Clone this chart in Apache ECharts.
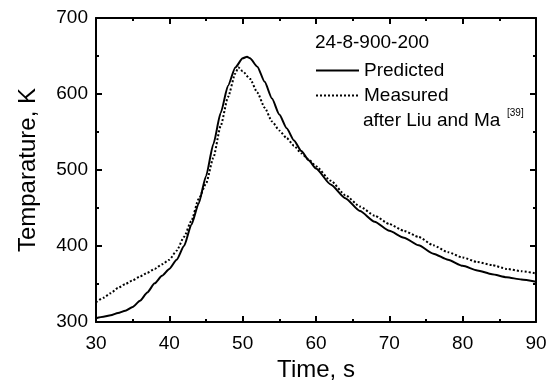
<!DOCTYPE html>
<html>
<head>
<meta charset="utf-8">
<script src="https://cdn.jsdelivr.net/npm/echarts@6/dist/echarts.min.js"></script>
<style>
  html, body { margin: 0; padding: 0; background: #fff; }
  #chart { width: 559px; height: 387px; }
</style>
</head>
<body>
<div id="chart"></div>
<script>
// values
const predTime = [30, 31, 32, 33, 34, 35, 36, 37, 38, 39, 40, 41, 42, 43, 44, 45, 46, 47, 48, 49, 50, 50.6, 51, 52, 53, 54, 55, 56, 57, 58, 59, 60, 62, 64, 66, 68, 70, 72, 74, 76, 78, 80, 82, 84, 86, 88, 90];
const predTemp = [305, 307, 309, 312, 315, 320, 328, 339, 351, 361, 370, 382, 400, 428, 456, 492, 534, 575, 611, 635, 647, 649, 647, 636, 616, 594, 573, 555, 539, 525, 513, 502, 481, 463, 446, 432, 420, 411, 401, 390, 382, 374, 368, 363, 359, 356, 353];

const measTime = [30, 31, 32, 33, 34, 35, 36, 37, 38, 39, 40, 41, 42, 43, 44, 45, 46, 47, 48, 49, 49.4, 50, 51, 52, 53, 54, 55, 56, 57, 58, 59, 60, 62, 64, 66, 68, 70, 72, 74, 76, 78, 80, 82, 84, 86, 88, 90];
const measTemp = [326, 332, 338, 345, 350, 355, 360, 365, 370, 376, 382, 394, 412, 433, 462, 482, 516, 558, 596, 627, 635, 630, 620, 602, 582, 564, 552, 542, 532, 522, 514, 505, 486, 467, 452, 440, 429, 420, 412, 401, 392, 385, 379, 375, 370, 367, 364];

const seriesNames = ['Predicted', 'Measured'];
const caseLabel = '24-8-900-200';
const sourceLabel = 'after Liu and Ma';
const refLabel = '[39]';

const FONT = 'Liberation Sans, Arial, Helvetica, sans-serif';

const pair = (xs, ys) => xs.map((x, i) => [x, ys[i]]);

const chart = echarts.init(document.getElementById('chart'));

const axisCommon = {
  type: 'value',
  axisLine: { show: true, onZero: false, lineStyle: { color: '#000', width: 2 } },
  axisTick: { show: true, inside: true, length: 6, lineStyle: { color: '#000', width: 2 } },
  minorTick: { show: true, splitNumber: 2, length: 3, lineStyle: { color: '#000', width: 2 } },
  splitLine: { show: false },
  minorSplitLine: { show: false }
};

const option = {
  animation: false,
  backgroundColor: '#fff',
  grid: { left: 96, right: 23, top: 18, bottom: 59 },
  xAxis: [
    {
      ...axisCommon,
      position: 'bottom',
      min: 30, max: 90, interval: 10,
      name: 'Time, s',
      nameLocation: 'middle',
      nameGap: 24,
      nameTextStyle: { fontFamily: FONT, fontSize: 24, color: '#000' },
      axisLabel: { fontFamily: FONT, fontSize: 19, color: '#000', margin: 12 }
    },
    {
      ...axisCommon,
      position: 'top',
      min: 30, max: 90, interval: 10,
      axisLabel: { show: false }
    }
  ],
  yAxis: [
    {
      ...axisCommon,
      position: 'left',
      min: 300, max: 700, interval: 100,
      name: 'Temparature, K',
      nameLocation: 'middle',
      nameGap: 56,
      nameTextStyle: { fontFamily: FONT, fontSize: 24, color: '#000' },
      axisLabel: { fontFamily: FONT, fontSize: 19, color: '#000', margin: 8 }
    },
    {
      ...axisCommon,
      position: 'right',
      min: 300, max: 700, interval: 100,
      axisLabel: { show: false }
    }
  ],
  legend: {
    data: seriesNames,
    orient: 'vertical',
    left: 310,
    top: 56,
    itemWidth: 43,
    itemHeight: 14,
    itemGap: 6,
    itemStyle: { opacity: 0 },
    textStyle: { fontFamily: FONT, fontSize: 19, color: '#000', lineHeight: 18 }
  },
  graphic: [
    {
      type: 'text', left: 315, top: 33,
      style: { text: caseLabel, font: '19px ' + FONT, fill: '#000' }
    },
    {
      type: 'text', left: 363, top: 111,
      style: { text: sourceLabel, font: '19px ' + FONT, fill: '#000' }
    },
    {
      type: 'text', left: 507, top: 108,
      style: { text: refLabel, font: '10px ' + FONT, fill: '#000' }
    }
  ],
  series: [
    {
      name: seriesNames[0],
      type: 'line',
      data: pair(predTime, predTemp),
      smooth: 0.2,
      smoothMonotone: 'x',
      symbol: 'none',
      lineStyle: { color: '#000', width: 2, type: 'solid' },
      itemStyle: { color: '#000' }
    },
    {
      name: seriesNames[1],
      type: 'line',
      data: pair(measTime, measTemp),
      smooth: 0.2,
      smoothMonotone: 'x',
      symbol: 'none',
      lineStyle: { color: '#000', width: 2, type: [2, 2] },
      itemStyle: { color: '#000' }
    }
  ]
};

chart.setOption(option);
</script>
</body>
</html>
